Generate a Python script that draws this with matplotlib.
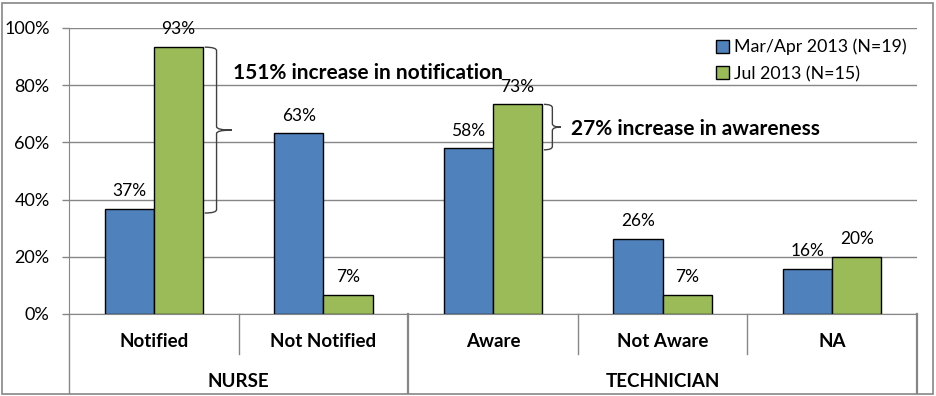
import matplotlib
matplotlib.use("Agg")
import matplotlib.pyplot as plt
import numpy as np
from matplotlib.path import Path
from matplotlib.patches import PathPatch, Patch, Rectangle

plt.rcParams['font.family'] = ['Lato', 'DejaVu Sans']

# data
categories = ["Notified", "Not Notified", "Aware", "Not Aware", "NA"]
groups = ["NURSE", "TECHNICIAN"]
group_sizes = [2, 3]
mar_apr = [36.8, 63.2, 57.9, 26.3, 15.8]
jul = [93.3, 6.7, 73.3, 6.7, 20.0]
series_names = ["Mar/Apr 2013 (N=19)", "Jul 2013 (N=15)"]
yticks = [0, 20, 40, 60, 80, 100]

blue = "#4F81BD"
green = "#9BBB59"
gray = "#868686"

fig = plt.figure(figsize=(9.37, 3.96), dpi=100)
ax = fig.add_axes([69 / 937, 82 / 396, 848 / 937, 286 / 396])

x = np.arange(len(categories))
w = 0.29
b1 = ax.bar(x - w / 2, mar_apr, w, color=blue, edgecolor="black", linewidth=1, zorder=3)
b2 = ax.bar(x + w / 2, jul, w, color=green, edgecolor="black", linewidth=1, zorder=3)

for bars, vals in [(b1, mar_apr), (b2, jul)]:
    for r, v in zip(bars, vals):
        ax.annotate(f"{v:.0f}%", (r.get_x() + r.get_width() / 2, v),
                    xytext=(0, 7), textcoords="offset points",
                    ha="center", va="bottom", fontsize=12.5)

ax.set_xlim(-0.5, len(categories) - 0.5)
ax.set_ylim(0, 100)
ax.set_yticks(yticks)
ax.set_yticklabels([f"{t}%" for t in yticks], fontsize=13)
ax.set_xticks([])
ax.yaxis.grid(True, color=gray, linewidth=1)
ax.set_axisbelow(True)
ax.tick_params(axis="y", length=5, color=gray, width=1, pad=9)
for s in ["top", "right"]:
    ax.spines[s].set_visible(False)
ax.spines["left"].set_color(gray)
ax.spines["bottom"].set_color(gray)
ax.spines["bottom"].set_zorder(4)

# category axis below the plot
tr = ax.get_xaxis_transform()
low, bottom = -0.14, -0.276
for i, c in enumerate(categories):
    ax.text(i, -0.096, c, transform=tr, ha="center", va="center",
            fontsize=13.5, fontweight="bold")
start = 0
edges = []
for g, n in zip(groups, group_sizes):
    ax.text(start + n / 2 - 0.5, -0.236, g, transform=tr, ha="center",
            va="center", fontsize=13.5, fontweight="bold")
    for k in range(1, n):
        ax.plot([start + k - 0.5] * 2, [0, low], transform=tr, color=gray,
                lw=1, clip_on=False)
    start += n
    edges.append(start - 0.5)
for e in [-0.5] + edges:
    ax.plot([e, e], [0, bottom], transform=tr, color=gray,
            lw=1 if e == -0.5 else 1.6, clip_on=False)


def brace(ax, xe, y0, y1, dx_v, dx_t):
    xv = xe + dx_v
    xt = xe + dx_t
    ym = (y0 + y1) / 2
    r = 1.2
    verts = [(xe, y0), (xv, y0), (xv, y0 + r),
             (xv, ym - r), (xv, ym), (xt, ym),
             (xv, ym), (xv, ym + r),
             (xv, y1 - r), (xv, y1), (xe, y1)]
    codes = [Path.MOVETO, Path.CURVE3, Path.CURVE3,
             Path.LINETO, Path.CURVE3, Path.CURVE3,
             Path.CURVE3, Path.CURVE3,
             Path.LINETO, Path.CURVE3, Path.CURVE3]
    ax.add_patch(PathPatch(Path(verts, codes), fill=False, lw=1,
                           edgecolor="#404040", clip_on=False, zorder=5))
    return xt, ym


i = categories.index("Notified")
xt, ym = brace(ax, i + w + 0.01, mar_apr[i] - 1.5, jul[i], 0.07, 0.16)
ax.text(xt + 0.005, 84.3, "151% increase in notification", fontsize=15,
        fontweight="bold", ha="left", va="center")

i = categories.index("Aware")
xt, ym = brace(ax, i + w + 0.01, mar_apr[i] - 0.5, jul[i], 0.05, 0.1)
ax.text(xt + 0.06, ym - 0.5, "27% increase in awareness", fontsize=15,
        fontweight="bold", ha="left", va="center")

handles = [Patch(facecolor=blue, edgecolor="black"),
           Patch(facecolor=green, edgecolor="black")]
ax.legend(handles, series_names, loc="upper right", bbox_to_anchor=(1.0, 1.0),
          frameon=False, fontsize=12.8, handlelength=0.75, handleheight=0.75,
          handletextpad=0.25, labelspacing=0.6, borderaxespad=0.2)

fig.patches.append(Rectangle((2 / 937, 2 / 396), 931 / 937, 391 / 396,
                             transform=fig.transFigure, fill=False,
                             edgecolor=gray, lw=1.2))

fig.savefig("out.png", dpi=100)
